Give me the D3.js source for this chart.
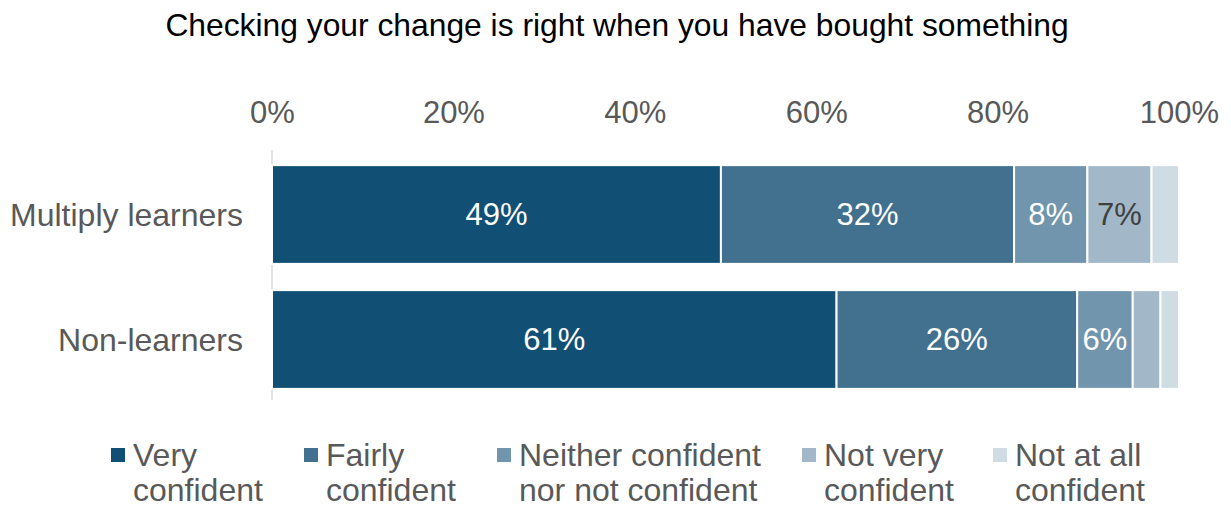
<!DOCTYPE html>
<html>
<head>
<meta charset="utf-8">
<script src="https://cdn.jsdelivr.net/npm/d3@7"></script>
<style>
  html, body { margin: 0; padding: 0; background: #fff; }
  svg { display: block; font-family: Arial, "Liberation Sans", sans-serif; }
</style>
</head>
<body>
<svg id="chart" width="1231" height="508"></svg>
<script>
// Survey answers, percent of each group
const categories = ["Multiply learners", "Non-learners"];
const levels = [
  "Very confident",
  "Fairly confident",
  "Neither confident nor not confident",
  "Not very confident",
  "Not at all confident"
];
const veryConfident = [49, 61];
const fairlyConfident = [32, 26];
const neitherConfident = [8, 6];
const notVeryConfident = [7, 3];
const notAtAllConfident = [3, 2];
const tickValues = [0, 0.2, 0.4, 0.6, 0.8, 1];
const tickLabels = ["0%", "20%", "40%", "60%", "80%", "100%"];
const legendLines = [
  ["Very", "confident"],
  ["Fairly", "confident"],
  ["Neither confident", "nor not confident"],
  ["Not very", "confident"],
  ["Not at all", "confident"]
];
const colors = ["#124f74", "#41718f", "#7095ad", "#a2b8c8", "#cfdce4"];
const titleText = "Checking your change is right when you have bought something";

const seriesValues = [veryConfident, fairlyConfident, neitherConfident, notVeryConfident, notAtAllConfident];
const rows = categories.map((c, i) => {
  const r = { category: c };
  levels.forEach((l, j) => { r[l] = seriesValues[j][i]; });
  return r;
});

const svg = d3.select("#chart");
const textColor = "#595959";

const x = d3.scaleLinear().domain([0, 1]).range([272, 1179]);
const y = d3.scaleBand().domain(categories).range([152, 402])
  .paddingInner(0.21).paddingOuter(0.105);
const color = d3.scaleOrdinal().domain(levels).range(colors);

// each row fills the full width (answers normalised to 100%)
const stacked = d3.stack().keys(levels).offset(d3.stackOffsetExpand)(rows);

// title
svg.append("text")
  .attr("x", 617).attr("y", 36)
  .attr("text-anchor", "middle")
  .attr("font-size", 31.8)
  .attr("fill", "#000")
  .text(titleText);

// top axis labels
const xAxis = d3.axisTop(x).tickValues(tickValues)
  .tickFormat((d, i) => tickLabels[i]).tickSize(0).tickPadding(0);
const gx = svg.append("g").attr("transform", "translate(0,123)").call(xAxis);
gx.select(".domain").remove();
gx.selectAll("text")
  .attr("font-size", 31)
  .attr("font-family", "Arial, 'Liberation Sans', sans-serif")
  .attr("fill", textColor)
  .attr("dy", 0);

// category axis line
svg.append("line")
  .attr("x1", x(0)).attr("x2", x(0))
  .attr("y1", 150).attr("y2", 400)
  .attr("stroke", "#d9d9d9").attr("stroke-width", 1.5);

// category labels
svg.append("g").selectAll("text")
  .data(categories).join("text")
  .attr("x", 243)
  .attr("y", d => y(d) + y.bandwidth() / 2)
  .attr("dy", "0.35em")
  .attr("text-anchor", "end")
  .attr("font-size", 32)
  .attr("fill", textColor)
  .text(d => d);

// bar segments
const layers = svg.append("g").selectAll("g")
  .data(stacked).join("g")
  .attr("fill", d => color(d.key));

layers.selectAll("rect")
  .data(d => d.map(p => ({ p, key: d.key })))
  .join("rect")
  .attr("x", d => x(d.p[0]))
  .attr("y", d => y(d.p.data.category))
  .attr("width", d => x(d.p[1]) - x(d.p[0]))
  .attr("height", y.bandwidth())
  .attr("stroke", "#fff")
  .attr("stroke-width", 2);

// value labels
const labelData = [];
stacked.forEach((s, si) => {
  s.forEach(p => {
    const v = p.data[s.key];
    if (v >= 5) labelData.push({ si, p, v });
  });
});
svg.append("g").selectAll("text")
  .data(labelData).join("text")
  .attr("x", d => (x(d.p[0]) + x(d.p[1])) / 2)
  .attr("y", d => y(d.p.data.category) + y.bandwidth() / 2)
  .attr("dy", "0.35em")
  .attr("text-anchor", "middle")
  .attr("font-size", 31)
  .attr("fill", d => d.si === 3 ? "#404040" : "#fff")
  .text(d => d.v + "%");

// legend
const legendX = [111, 304, 497, 802, 993];
const legend = svg.append("g").selectAll("g")
  .data(levels).join("g")
  .attr("transform", (d, i) => `translate(${legendX[i]},0)`);
legend.append("rect")
  .attr("x", 0).attr("y", 448)
  .attr("width", 14).attr("height", 14)
  .attr("fill", d => color(d));
legend.append("text")
  .attr("x", 22).attr("y", 466)
  .attr("font-size", 32)
  .attr("fill", textColor)
  .selectAll("tspan")
  .data((d, i) => legendLines[i]).join("tspan")
  .attr("x", 22)
  .attr("dy", (d, j) => j === 0 ? 0 : 35)
  .text(d => d);
</script>
</body>
</html>
